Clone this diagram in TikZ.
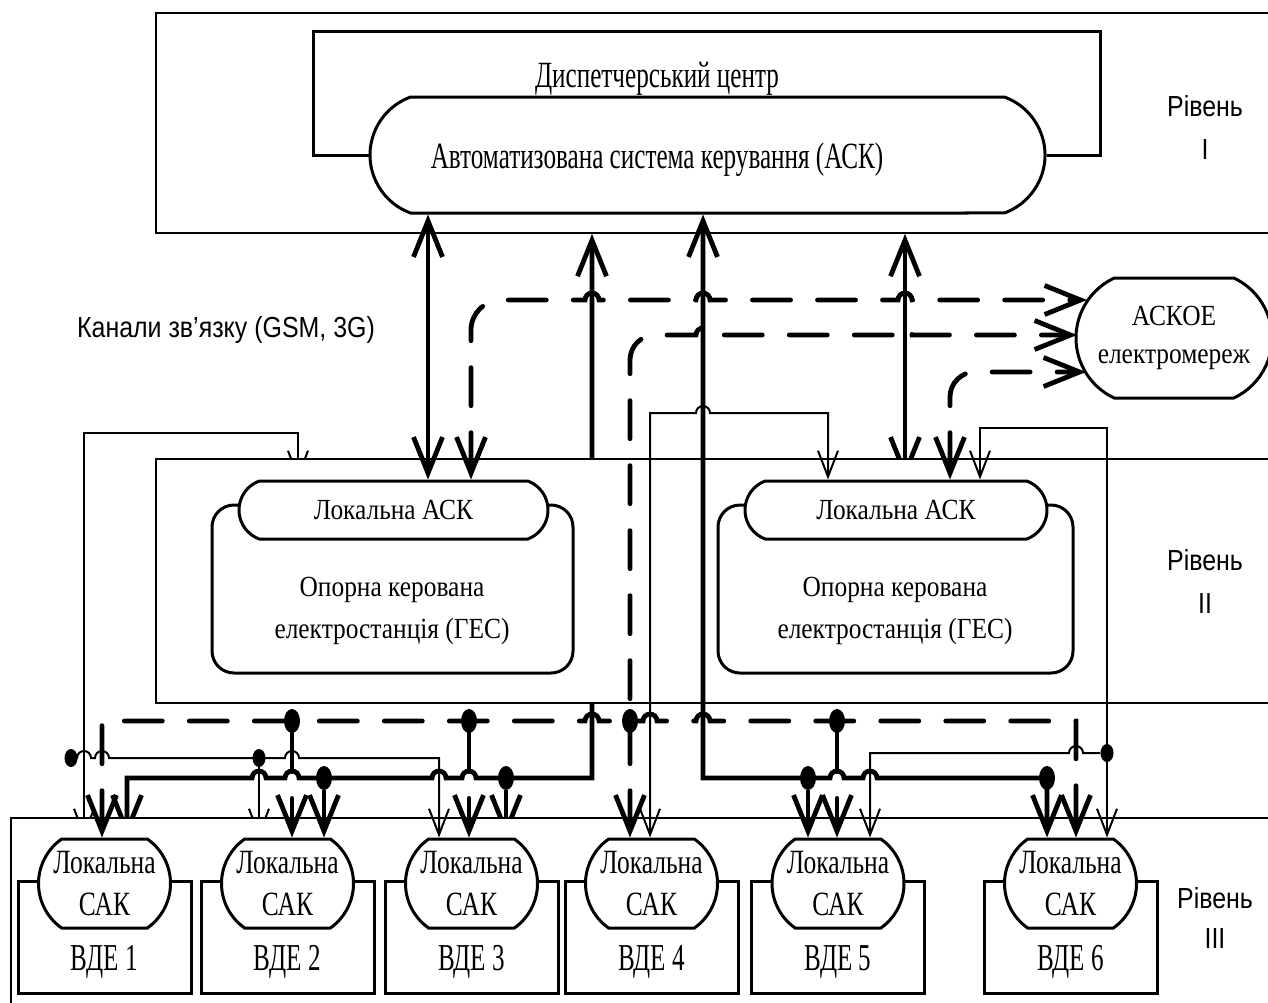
\documentclass[tikz,border=0pt]{standalone}
\usepackage{fontspec}
\setmainfont{Liberation Serif}
\newfontfamily\topfont[FakeStretch=0.68]{Liberation Serif}
\newfontfamily\midfont[FakeStretch=0.87]{Liberation Serif}
\newfontfamily\vdefont[FakeStretch=0.75]{Liberation Serif}
\newfontfamily\numfont[FakeStretch=0.66]{Liberation Serif}
\newfontfamily\levfont[FakeStretch=0.86]{Liberation Sans}
\usetikzlibrary{arrows.meta, shapes.misc, shapes.geometric, positioning, backgrounds}
\newcommand{\hopr}[2]{-- (#1-7,#2) arc[start angle=180, end angle=360, radius=7]}
\newcommand{\hopl}[2]{-- (#1+7,#2) arc[start angle=0, end angle=-180, radius=7]}

\begin{document}
\begin{tikzpicture}[x=0.5pt, y=-0.5pt,
    levbox/.style={rectangle, draw, line width=0.9pt, fill=white, inner sep=0pt, anchor=north west},
    capsule/.style={rounded rectangle, draw, line width=1.5pt, fill=white, inner sep=0pt, align=center},
    station/.style={rectangle, draw, line width=1.5pt, rounded corners=11pt, fill=white, inner sep=0pt, minimum height=84pt},
    vdebox/.style={rectangle, draw, line width=1.5pt, fill=white, minimum width=86.5pt, minimum height=56pt, inner sep=0pt},
    dot/.style={ellipse, fill, inner sep=0pt, minimum width=8pt, minimum height=12pt},
    sdot/.style={ellipse, fill, inner sep=0pt, minimum width=6.5pt, minimum height=9pt},
    thickln/.style={line width=2.4pt},
    thinln/.style={line width=1pt},
    dashln/.style={line width=2.4pt, dash pattern=on 19pt off 13.5pt, line cap=round},
    bigtip/.tip={Straight Barb[length=18pt, width=14.5pt]},
    smalltip/.tip={Straight Barb[length=13pt, width=10pt]},
    toptext/.style={font=\topfont\fontsize{18.5}{22}\selectfont},
    midtext/.style={font=\midfont\fontsize{14.6}{21}\selectfont, align=center},
    vdetext/.style={font=\vdefont\fontsize{17}{21}\selectfont, align=center},
    numtext/.style={font=\numfont\fontsize{19}{22}\selectfont},
    levtext/.style={font=\levfont\fontsize{14.5}{21.5}\selectfont, align=center}]

    \useasboundingbox (0,0) rectangle (1268,1002);
    \clip (0,0) rectangle (1268,1002);

    % Рівень I
    \node [levbox, minimum width=570pt, minimum height=110pt] (lev1) at (155,12) {};
    \node [capsule, rounded rectangle arc length=140, minimum width=337.5pt, minimum height=58pt] (ack) at (707.5,155) {};
    \node [toptext] (dctext) at (657,79) {Диспетчерський центр};
    \node [toptext] (acktext) at (657,160) {Автоматизована система керування (АСК)};
    \draw [line width=1.5pt] (ack.west) -| (313,31) -| (1100,155) -- (ack.east);
    \node [levtext] (r1) at (1205,127) {Рівень\\I};

    \node [levtext] (chan) at (226,330) {Канали зв’язку (GSM, 3G)};
    \node [capsule, midtext, font=\midfont\fontsize{14.6}{19}\selectfont, rounded rectangle arc length=130, minimum width=98pt, minimum height=60pt] (askoe) at (1174,338) {АСКОЕ\\електромереж};

    % Рівень II
    \node [levbox, minimum width=570pt, minimum height=122pt] (lev2) at (155,458) {};
    \node [station, minimum width=180.5pt] (ges1) at (392.5,589) {};
    \node [station, minimum width=177.5pt] (ges2) at (895.5,589) {};
    \node [midtext] (ges1t) at (392,611) {Опорна керована\\електростанція (ГЕС)};
    \node [midtext] (ges2t) at (895,611) {Опорна керована\\електростанція (ГЕС)};
    \node [capsule, midtext, rounded rectangle arc length=140, minimum width=154.5pt, minimum height=29pt] (lask1) at (393.5,510) {Локальна АСК};
    \node [capsule, midtext, rounded rectangle arc length=140, minimum width=151pt, minimum height=29pt] (lask2) at (896,510) {Локальна АСК};
    \node [levtext] (r2) at (1205,581) {Рівень\\II};

    % Рівень III
    \node [levbox, minimum width=640pt, minimum height=100pt] (lev3) at (10,817) {};
    \foreach \i/\x in {1/104.5, 2/287.5, 3/471.5, 4/651.5, 5/838, 6/1070.5} {
        \node [vdebox] (vde\i) at (\x,937) {};
        \node [numtext] (vdel\i) at (\x,962) {ВДЕ \i};
        \node [capsule, vdetext, rounded rectangle arc length=110, minimum width=66pt, minimum height=44.5pt] (sak\i) at (\x,883.5) {Локальна\\САК};
    }
    \node [levtext, font=\levfont\fontsize{14.5}{20}\selectfont] (r3) at (1215,918) {Рівень\\III};

    % вузли
    \foreach \n/\x/\y in {d324/324/778, d506/506/778, d808/808/778, d1047/1047/778,
                          b292/292/721, b469/469/721, b630/630/721, b837/837/721}
        \node [dot] (\n) at (\x,\y) {};
    \foreach \n/\x/\y in {s71/71/758, s259/259/758, s1107/1107/753}
        \node [sdot] (\n) at (\x,\y) {};

    % канали
    \draw [thickln, bigtip-bigtip] (428,0 |- ack.south) -- (428,0 |- lask1.north);
    \draw [thickln, bigtip-bigtip] (703,0 |- ack.south) -- (703,778) \hopr{837}{778} \hopr{870}{778} -- (1047,778) -- (1047,0 |- sak6.north);
    \draw [thickln, -bigtip] (d808) -- (808,0 |- sak5.north);
    \draw [thickln, -bigtip] (d324) -- (324,0 |- sak2.north);

    \draw [dashln, bigtip-bigtip] (471,0 |- lask1.north) -- (471,330) arc[start angle=180, end angle=270, radius=30] \hopr{592}{300} \hopr{703}{300} \hopr{905}{300} -- (1087,300);
    \draw [dashln, bigtip-bigtip] (630,0 |- sak4.north) -- (630,360) arc[start angle=180, end angle=270, radius=25] \hopr{703}{335} \hopr{905}{335} -- (1077,335);
    \draw [dashln, bigtip-bigtip] (950,0 |- lask2.north) -- (950,397) arc[start angle=180, end angle=270, radius=25] -- (1086,372);
    \draw [dashln, bigtip-bigtip] (102,0 |- sak1.north) -- (102,721) \hopr{592}{721} \hopr{650}{721} \hopr{703}{721} -- (1076,721) -- (1076,0 |- sak6.north);
    \foreach \x/\k in {292/2, 469/3, 837/5}
        \draw [dashln, -bigtip] (b\x) -- (\x,0 |- sak\k.north);

    \draw [thinln, -smalltip] (s71) \hopr{84}{758} \hopr{102}{758} -- (259,758) \hopr{292}{758} -- (439,758) -- (439,0 |- sak3.north);
    \draw [thinln, smalltip-smalltip] (828,0 |- lask2.north) -- (828,413) \hopl{703}{413} -- (650,413) -- (650,0 |- sak4.north);
    \draw [thinln, smalltip-smalltip] (980,0 |- lask2.north) -- (980,428) -- (1107,428) -- (1107,0 |- sak6.north);
    \draw [thinln, -smalltip] (s1107) \hopl{1076}{753} -- (870,753) -- (870,0 |- sak5.north);

    \begin{scope}[on background layer]
        \draw [thinln, smalltip-smalltip] (84,0 |- sak1.north) |- (298,433) -- (298,0 |- lask1.north);
        \draw [thickln, bigtip-bigtip] (592,0 |- lev1.south) -- (592,778) \hopl{469}{778} \hopl{439}{778} \hopl{292}{778} \hopl{259}{778} -- (127,778) -- (127,0 |- sak1.north);
        \draw [thickln, -bigtip] (d506) -- (506,0 |- sak3.north);
        \draw [thinln, -smalltip] (s259) -- (259,0 |- sak2.north);
        \draw [thickln, bigtip-bigtip] (905,0 |- lev1.south) -- (905,0 |- lask2.north);
    \end{scope}
\end{tikzpicture}
\end{document}
